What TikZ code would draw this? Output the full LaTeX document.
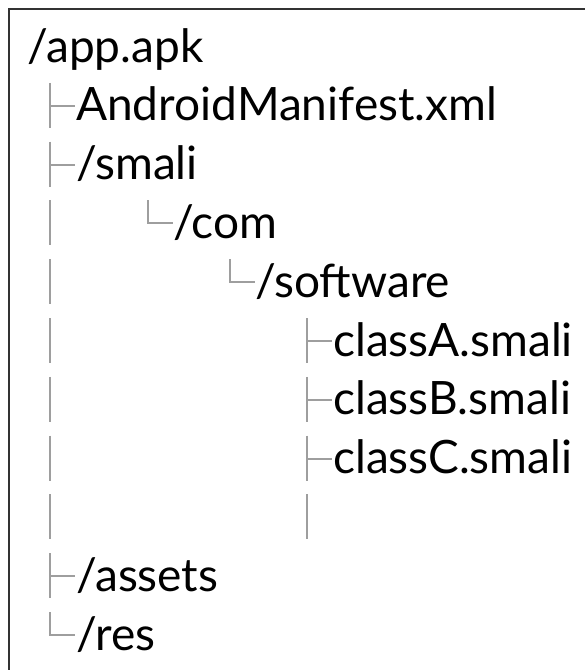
\documentclass[tikz,border=0pt]{standalone}
\usepackage{fontspec}
\setmainfont{Lato}
\begin{document}
\begin{tikzpicture}[x=1pt,y=-1pt,
  entry/.style={anchor=base west,inner sep=0pt,font=\fontsize{46}{46}\selectfont},
  guide/.style={draw=black!38,line width=2pt},
  frame/.style={draw=black!80,line width=1.6pt}]
\useasboundingbox (0,0) rectangle (585,670);
\draw[frame] (9,690) -- (9,9) -- (605,9);
% tree guides: vertical bar, tee and elbow per row
\newcommand{\rowy}[1]{62+58.8*#1}
\newcommand{\vbar}[2]{\draw[guide] (#1,{\rowy{#2}-38}) -- (#1,{\rowy{#2}+7});}
\newcommand{\tee}[2]{\vbar{#1}{#2}\draw[guide] (#1,{\rowy{#2}-15}) -- (#1+25,{\rowy{#2}-15});}
\newcommand{\elbow}[2]{\draw[guide] (#1,{\rowy{#2}-38}) -- (#1,{\rowy{#2}-15}) -- (#1+25,{\rowy{#2}-15});}
\node[entry] (apk) at (27,{\rowy{0}}) {/app.apk};
\node[entry] (manifest) at (76,{\rowy{1}}) {AndroidManifest.xml};
\node[entry] (smali) at (76,{\rowy{2}}) {/smali};
\node[entry] (com) at (173,{\rowy{3}}) {/com};
\node[entry] (software) at (255,{\rowy{4}}) {/software};
\node[entry] (classA) at (333,{\rowy{5}}) {classA.smali};
\node[entry] (classB) at (333,{\rowy{6}}) {classB.smali};
\node[entry] (classC) at (333,{\rowy{7}}) {classC.smali};
\node[entry] (assets) at (76,{\rowy{9}}) {/assets};
\node[entry] (res) at (76,{\rowy{10}}) {/res};
\tee{50}{1}
\tee{50}{2}
\foreach \k in {3,...,8} {\vbar{50}{\k}}
\elbow{148}{3}
\elbow{230}{4}
\tee{307}{5}
\tee{307}{6}
\tee{307}{7}
\vbar{307}{8}
\tee{50}{9}
\elbow{50}{10}
\end{tikzpicture}
\end{document}
